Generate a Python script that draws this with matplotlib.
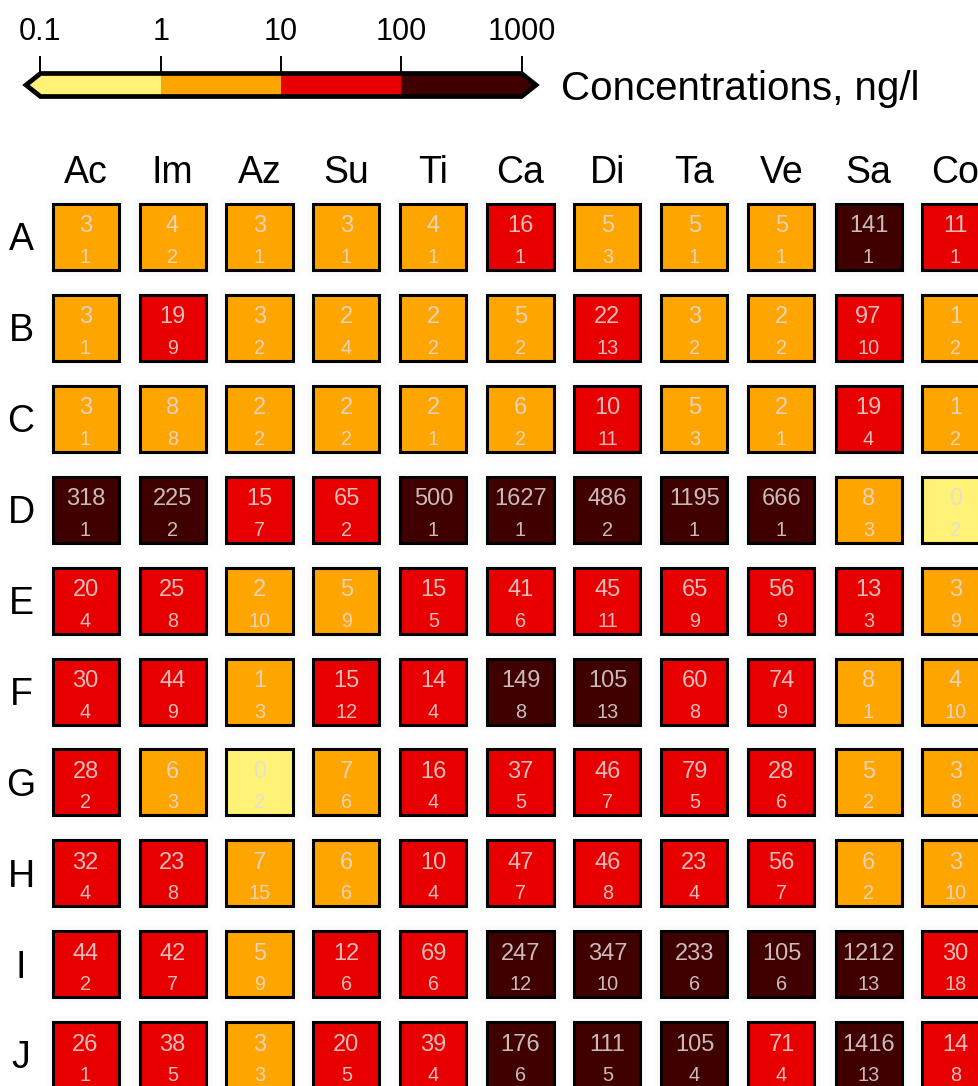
import matplotlib
matplotlib.use("Agg")
import matplotlib.pyplot as plt
from matplotlib.colors import ListedColormap, BoundaryNorm
from matplotlib.patches import Rectangle
import matplotlib.cm as cm

plt.rcParams['font.family'] = ['Liberation Sans', 'DejaVu Sans']

# ---------------- data ----------------
rows = ['A', 'B', 'C', 'D', 'E', 'F', 'G', 'H', 'I', 'J']
cols = ['Ac', 'Im', 'Az', 'Su', 'Ti', 'Ca', 'Di', 'Ta', 'Ve', 'Sa', 'Co']

concentrations = [
    [3, 4, 3, 3, 4, 16, 5, 5, 5, 141, 11],
    [3, 19, 3, 2, 2, 5, 22, 3, 2, 97, 1],
    [3, 8, 2, 2, 2, 6, 10, 5, 2, 19, 1],
    [318, 225, 15, 65, 500, 1627, 486, 1195, 666, 8, 0],
    [20, 25, 2, 5, 15, 41, 45, 65, 56, 13, 3],
    [30, 44, 1, 15, 14, 149, 105, 60, 74, 8, 4],
    [28, 6, 0, 7, 16, 37, 46, 79, 28, 5, 3],
    [32, 23, 7, 6, 10, 47, 46, 23, 56, 6, 3],
    [44, 42, 5, 12, 69, 247, 347, 233, 105, 1212, 30],
    [26, 38, 3, 20, 39, 176, 111, 105, 71, 1416, 14],
]
counts = [
    [1, 2, 1, 1, 1, 1, 3, 1, 1, 1, 1],
    [1, 9, 2, 4, 2, 2, 13, 2, 2, 10, 2],
    [1, 8, 2, 2, 1, 2, 11, 3, 1, 4, 2],
    [1, 2, 7, 2, 1, 1, 2, 1, 1, 3, 2],
    [4, 8, 10, 9, 5, 6, 11, 9, 9, 3, 9],
    [4, 9, 3, 12, 4, 8, 13, 8, 9, 1, 10],
    [2, 3, 2, 6, 4, 5, 7, 5, 6, 2, 8],
    [4, 8, 15, 6, 4, 7, 8, 4, 7, 2, 10],
    [2, 7, 9, 6, 6, 12, 10, 6, 6, 13, 18],
    [1, 5, 3, 5, 4, 6, 5, 4, 4, 13, 8],
]
levels = [0.1, 1, 10, 100, 1000]
tick_labels = ['0.1', '1', '10', '100', '1000']
bin_colors = ['#FFF276', '#FFA500', '#E80000', '#400000']
cbar_label = 'Concentrations, ng/l'

# ---------------- styling ----------------
W, H = 979, 1086
fig = plt.figure(figsize=(W / 100, H / 100), dpi=100)
fig.patch.set_facecolor('white')

cmap = ListedColormap(bin_colors)
cmap.set_under(bin_colors[0])
cmap.set_over(bin_colors[-1])
norm = BoundaryNorm(levels, ncolors=len(bin_colors))

pitch_x, pitch_y = 87.0, 90.9
first_cx, first_cy = 85.5, 237.0
ax_left = first_cx - pitch_x / 2
ax_top = first_cy - pitch_y / 2
ax_w = pitch_x * len(cols)
ax_h = pitch_y * len(rows)
ax = fig.add_axes([ax_left / W, 1 - (ax_top + ax_h) / H, ax_w / W, ax_h / H])
ax.set_xlim(-0.5, len(cols) - 0.5)
ax.set_ylim(len(rows) - 0.5, -0.5)
ax.axis('off')

box_w = 66 / pitch_x
box_h = 66 / pitch_y
halo_w = 78 / pitch_x
halo_h = 78 / pitch_y
txt_color = '#E4DCDC'

for j, r in enumerate(rows):
    for i, c in enumerate(cols):
        v = concentrations[j][i]
        n = counts[j][i]
        ax.add_patch(Rectangle((i - halo_w / 2, j - halo_h / 2), halo_w, halo_h,
                               facecolor='#FAFBFB', edgecolor='none', zorder=1))
        ax.add_patch(Rectangle((i - box_w / 2, j - box_h / 2), box_w, box_h,
                               facecolor=cmap(norm(v)), edgecolor='black',
                               linewidth=2.2, zorder=2))
        ax.text(i, j - 4.5 / pitch_y, str(v), ha='center', va='baseline',
                fontsize=17, color=txt_color, alpha=0.85, zorder=3)
        ax.text(i, j + 26 / pitch_y, str(n), ha='center', va='baseline',
                fontsize=14.3, color=txt_color, alpha=0.85, zorder=3)

for i, c in enumerate(cols):
    ax.text(i, (183 - first_cy) / pitch_y, c, ha='center', va='baseline',
            fontsize=27, color='black', clip_on=False)
for j, r in enumerate(rows):
    ax.text((21 - first_cx) / pitch_x, j + 13.4 / pitch_y, r, ha='center',
            va='baseline', fontsize=27, color='black', clip_on=False)

# ---------------- colorbar ----------------
cax = fig.add_axes([26 / W, 1 - 96.5 / H, (536 - 26) / W, 23 / H])
sm = cm.ScalarMappable(norm=norm, cmap=cmap)
cb = fig.colorbar(sm, cax=cax, orientation='horizontal', extend='both',
                  extendfrac=0.03, spacing='uniform')
cb.set_ticks(levels, labels=tick_labels)
cb.minorticks_off()
cax.xaxis.set_ticks_position('top')
cax.tick_params(axis='x', length=13, width=1.4, pad=5.8, labelsize=22,
                direction='out', colors='black')
cb.outline.set_linewidth(3.4)
fig.text(561 / W, 1 - 100 / H, cbar_label, fontsize=29, ha='left', va='baseline')

fig.savefig('out.png', dpi=100)
